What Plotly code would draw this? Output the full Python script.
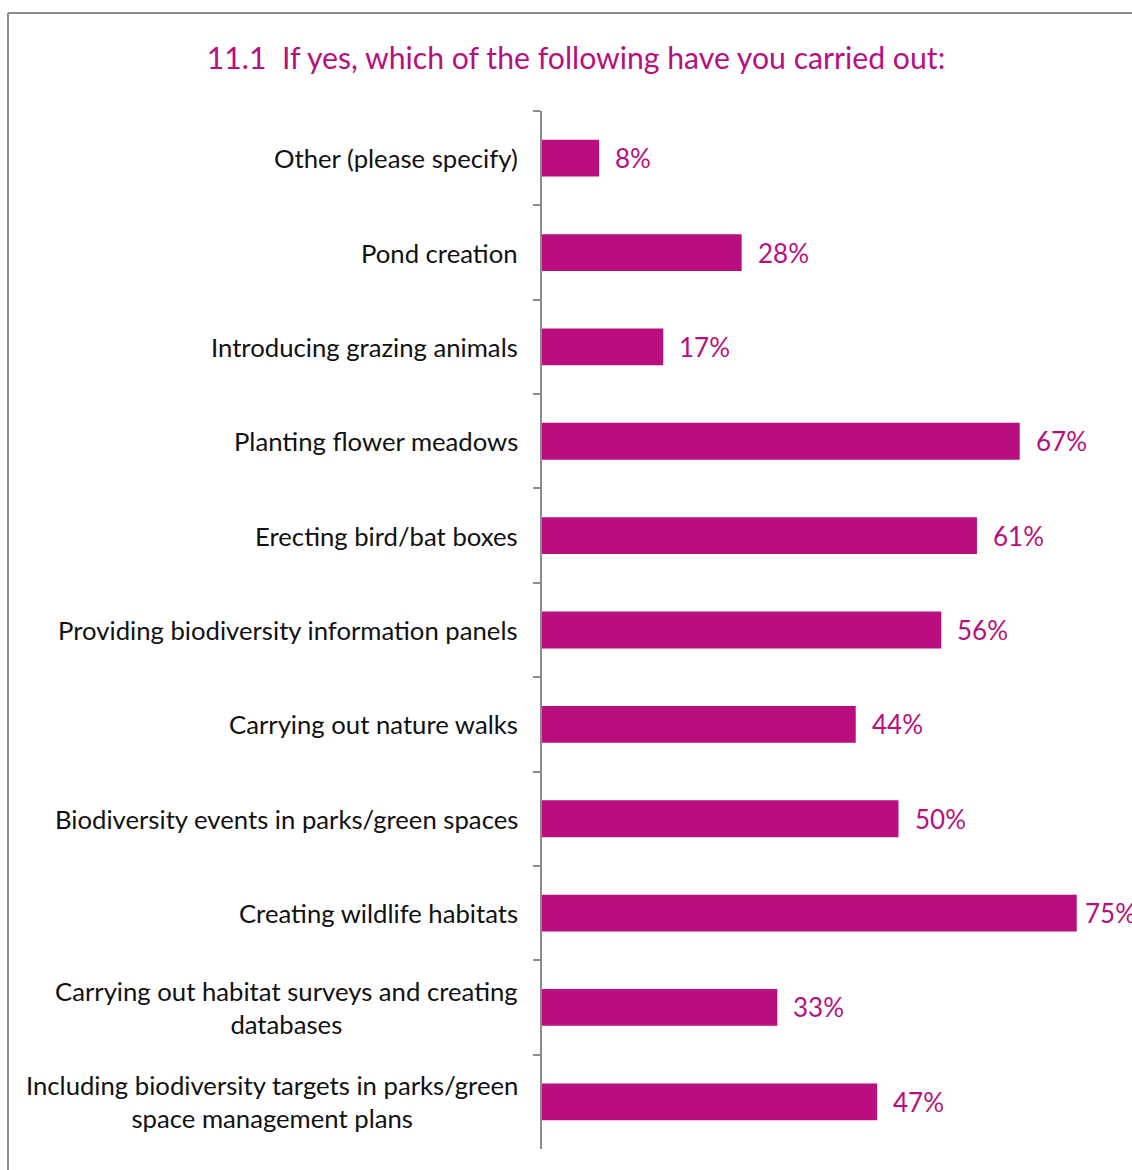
import plotly.graph_objects as go

# Survey responses, listed top to bottom as shown on the chart
categories = [
    "Other (please specify)",
    "Pond creation",
    "Introducing grazing animals",
    "Planting flower meadows",
    "Erecting bird/bat boxes",
    "Providing biodiversity information panels",
    "Carrying out nature walks",
    "Biodiversity events in parks/green spaces",
    "Creating wildlife habitats",
    "Carrying out habitat surveys and creating<br>databases",
    "Including biodiversity targets in parks/green<br>space management plans",
]
percentages = [8, 28, 17, 67, 61, 56, 44, 50, 75, 33, 47]

title_text = "11.1  If yes, which of the following have you carried out:"

MAGENTA = "#B90E7D"
GREY = "#8C8C8C"
FONT = "Lato, 'Open Sans', sans-serif"

W, H = 1132, 1170
ML, MR, MT, MB = 542, 0, 111, 21
plot_w = W - ML - MR
plot_h = H - MT - MB
PX_PER_PCT = 7.13
LABEL_W = 52  # approximate width of a "NN%" label

fig = go.Figure()
fig.add_trace(go.Bar(
    x=percentages,
    y=categories,
    orientation="h",
    marker=dict(color=MAGENTA, line=dict(width=0)),
    width=0.39,
    hoverinfo="skip",
))

# value labels to the right of each bar; tucked closer when near the edge
for cat, val in zip(categories, percentages):
    shift = 14
    if val * PX_PER_PCT + shift + LABEL_W > plot_w:
        shift = 6
    fig.add_annotation(
        x=val, y=cat, xref="x", yref="y",
        text=f"{val}%", showarrow=False,
        xanchor="left", yanchor="middle", xshift=shift,
        font=dict(family=FONT, size=26, color=MAGENTA),
    )

# category labels, centred across their own lines, right-aligned to the axis
for cat in categories:
    fig.add_annotation(
        x=0, y=cat, xref="paper", yref="y",
        text=cat, showarrow=False,
        xanchor="right", yanchor="middle", xshift=-22,
        align="center",
        font=dict(family=FONT, size=25.7, color="#111111"),
    )

# outer frame (left and top edges)
fx0 = (8 - ML) / plot_w
fy_top = 1 + (MT - 13) / plot_h
fy_bot = -(MB + 5) / plot_h
fx1 = 1 + 10 / plot_w
fig.add_shape(type="line", xref="paper", yref="paper",
              x0=fx0, x1=fx0, y0=fy_bot, y1=fy_top,
              line=dict(color=GREY, width=2))
fig.add_shape(type="line", xref="paper", yref="paper",
              x0=fx0, x1=fx1, y0=fy_top, y1=fy_top,
              line=dict(color=GREY, width=2))

fig.update_layout(
    width=W, height=H,
    margin=dict(l=ML, r=MR, t=MT, b=MB),
    paper_bgcolor="white", plot_bgcolor="white",
    showlegend=False,
    title=dict(
        text=title_text,
        x=576 / W, xanchor="center", xref="container",
        y=1 - 58 / H, yanchor="middle", yref="container",
        font=dict(family=FONT, size=30.2, color=MAGENTA),
    ),
    xaxis=dict(
        range=[0, plot_w / PX_PER_PCT],
        showgrid=False, zeroline=False, showticklabels=False,
        showline=False, ticks="",
    ),
    yaxis=dict(
        type="category",
        categoryorder="array", categoryarray=categories,
        range=[len(categories) - 0.5, -0.5],
        showgrid=False, zeroline=False,
        showticklabels=False,
        showline=True, linecolor=GREY, linewidth=2,
        ticks="outside", tickson="boundaries", ticklen=7,
        tickcolor=GREY, tickwidth=2,
    ),
)

fig.write_html("out.html")
